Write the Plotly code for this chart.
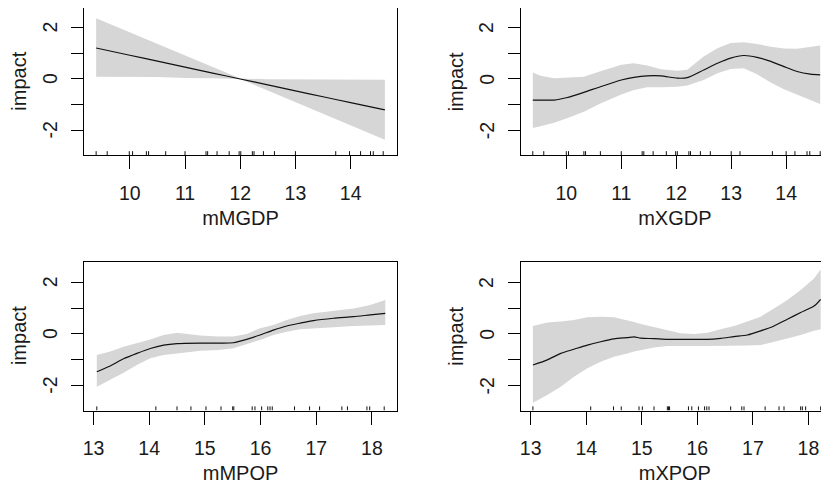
import plotly.graph_objects as go

# ---------------- data ----------------
# Panel 1: mMGDP
x_mgdp = [9.39, 10.0, 10.5, 11.0, 11.5, 12.0, 12.5, 13.0, 13.5, 14.0, 14.62]
fit_mgdp = [1.20, 0.92, 0.69, 0.46, 0.23, 0.00, -0.23, -0.46, -0.69, -0.92, -1.20]
up_mgdp = [2.35, 1.80, 1.35, 0.90, 0.45, 0.02, -0.01, -0.02, -0.03, -0.03, -0.03]
lo_mgdp = [0.09, 0.08, 0.08, 0.04, 0.03, 0.00, -0.45, -0.90, -1.35, -1.80, -2.36]
rug_mgdp = [9.39, 9.59, 9.99, 10.05, 10.30, 10.34, 10.65, 11.0, 11.38, 11.41, 11.58,
            11.80, 11.98, 12.01, 12.22, 12.25, 12.42, 12.62, 13.0, 13.73, 13.98,
            14.18, 14.36, 14.41, 14.59]

# Panel 2: mXGDP
x_xgdp = [9.39, 9.53, 9.78, 10.0, 10.32, 10.62, 11.0, 11.23, 11.47, 11.72, 12.02,
          12.20, 12.5, 12.75, 12.99, 13.23, 13.47, 13.72, 13.96, 14.2, 14.44, 14.62]
fit_xgdp = [-0.82, -0.82, -0.82, -0.73, -0.52, -0.30, -0.04, 0.06, 0.12, 0.12, 0.03,
            0.05, 0.35, 0.61, 0.81, 0.91, 0.84, 0.68, 0.48, 0.29, 0.19, 0.16]
up_xgdp = [0.25, 0.12, 0.03, 0.05, 0.09, 0.30, 0.55, 0.61, 0.52, 0.38, 0.32,
           0.36, 0.87, 1.19, 1.39, 1.42, 1.36, 1.25, 1.18, 1.17, 1.24, 1.30]
lo_xgdp = [-1.90, -1.83, -1.70, -1.53, -1.27, -0.95, -0.60, -0.43, -0.32, -0.32, -0.30,
           -0.25, -0.04, 0.22, 0.39, 0.42, 0.18, -0.14, -0.40, -0.62, -0.82, -0.97]
rug_xgdp = [9.39, 9.59, 10.0, 10.04, 10.32, 10.35, 10.62, 11.0, 11.38, 11.41, 11.58,
            11.82, 11.99, 12.02, 12.23, 12.26, 12.44, 12.62, 13.0, 13.16, 13.75,
            14.0, 14.16, 14.38, 14.43, 14.62]

# Panel 3: mMPOP
x_mpop = [13.06, 13.30, 13.54, 13.78, 14.02, 14.26, 14.50, 14.92, 15.25, 15.51, 15.75,
          15.99, 16.23, 16.47, 16.71, 16.95, 17.31, 17.67, 17.97, 18.24]
fit_mpop = [-1.46, -1.24, -0.96, -0.75, -0.56, -0.43, -0.37, -0.35, -0.35, -0.34, -0.21,
            -0.04, 0.15, 0.31, 0.42, 0.52, 0.61, 0.67, 0.74, 0.80]
up_mpop = [-0.81, -0.68, -0.49, -0.36, -0.21, -0.04, 0.05, -0.06, -0.10, -0.10, 0.00,
           0.22, 0.35, 0.54, 0.70, 0.80, 0.90, 0.99, 1.12, 1.32]
lo_mpop = [-2.04, -1.78, -1.50, -1.20, -0.94, -0.81, -0.75, -0.65, -0.62, -0.55, -0.39,
           -0.23, -0.04, 0.09, 0.18, 0.22, 0.26, 0.31, 0.34, 0.35]
rug_mpop = [13.06, 14.12, 14.50, 14.75, 15.02, 15.29, 15.50, 15.52, 15.85, 15.90, 16.02,
            16.13, 16.17, 16.21, 16.61, 16.88, 17.06, 17.46, 17.56, 17.91, 17.96, 18.22]

# Panel 4: mXPOP
x_xpop = [13.04, 13.30, 13.54, 13.78, 14.02, 14.26, 14.50, 14.74, 14.86, 14.98, 15.22,
          15.46, 15.70, 15.94, 16.18, 16.42, 16.66, 16.90, 17.14, 17.38, 17.62, 17.86,
          18.10, 18.22]
fit_xpop = [-1.20, -1.00, -0.75, -0.59, -0.43, -0.30, -0.19, -0.14, -0.11, -0.16, -0.18,
            -0.21, -0.21, -0.21, -0.21, -0.17, -0.10, -0.04, 0.12, 0.31, 0.57, 0.83,
            1.08, 1.34]
up_xpop = [0.31, 0.44, 0.48, 0.54, 0.65, 0.67, 0.65, 0.54, 0.46, 0.39, 0.26,
           0.13, 0.03, 0.00, 0.05, 0.18, 0.31, 0.48, 0.67, 0.99, 1.32, 1.70,
           2.15, 2.50]
lo_xpop = [-2.66, -2.36, -2.04, -1.65, -1.33, -1.07, -0.88, -0.75, -0.68, -0.62, -0.52,
           -0.46, -0.46, -0.46, -0.46, -0.46, -0.46, -0.45, -0.43, -0.30, -0.17, -0.04,
           0.13, 0.18]
rug_xpop = [13.04, 14.08, 14.49, 14.63, 14.95, 15.01, 15.22, 15.46, 15.48, 15.50, 15.84,
            15.90, 16.02, 16.13, 16.17, 16.21, 16.60, 16.80, 16.84, 17.22, 17.47, 17.56,
            17.86, 17.89, 17.95, 18.22]

x_titles = ["mMGDP", "mXGDP", "mMPOP", "mXPOP"]
y_title = "impact"
y_tickvals = [-2, -1, 0, 1, 2]
y_ticktext = ["-2", "", "0", "", "2"]

panels = [
    (x_mgdp, fit_mgdp, up_mgdp, lo_mgdp, rug_mgdp),
    (x_xgdp, fit_xgdp, up_xgdp, lo_xgdp, rug_xgdp),
    (x_mpop, fit_mpop, up_mpop, lo_mpop, rug_mpop),
    (x_xpop, fit_xpop, up_xpop, lo_xpop, rug_xpop),
]

# ---------------- layout geometry ----------------
# page has an 8px body margin, so the figure itself is 821x479
W, H = 821, 479
YMIN = -2.96
yranges = [[YMIN, 2.752], [YMIN, 2.752], [YMIN, 2.797], [YMIN, 2.797]]
xranges = [[9.17, 14.84], [9.17, 14.78], [12.83, 18.45], [12.82, 18.37]]
xdomains = [[76 / W, 389 / W], [512.7 / W, 1.0], [76 / W, 389 / W], [512.7 / W, 1.0]]
ydomains = [[1 - 147.3 / H, 1.0], [1 - 147.3 / H, 1.0],
            [1 - 402.5 / H, 1 - 253.7 / H], [1 - 402.5 / H, 1 - 253.7 / H]]

FONT = "Liberation Sans, Arial, sans-serif"
TXT = "#1a1a1a"
BAND = "#d6d6d6"

fig = go.Figure()
layout = dict(
    width=W, height=H, margin=dict(l=0, r=0, t=0, b=0),
    paper_bgcolor="white", plot_bgcolor="white", showlegend=False,
    font=dict(family=FONT, size=20, color=TXT),
)
annotations = []

rug_h = 0.16
for i, (xs, fit, up, lo, rug) in enumerate(panels):
    n = i + 1
    xa = "x" if n == 1 else f"x{n}"
    ya = "y" if n == 1 else f"y{n}"
    fig.add_trace(go.Scatter(
        x=list(xs) + list(xs[::-1]), y=list(up) + list(lo[::-1]),
        fill="toself", fillcolor=BAND, line=dict(width=0, color=BAND),
        mode="lines", hoverinfo="skip", xaxis=xa, yaxis=ya))
    fig.add_trace(go.Scatter(
        x=xs, y=fit, mode="lines",
        line=dict(color="#111111", width=1.2, shape="spline", smoothing=0.6),
        xaxis=xa, yaxis=ya))
    rx, ry = [], []
    for v in rug:
        rx += [v, v, None]
        ry += [YMIN, YMIN + rug_h, None]
    fig.add_trace(go.Scatter(x=rx, y=ry, mode="lines",
                             line=dict(color="#111111", width=1),
                             hoverinfo="skip", xaxis=xa, yaxis=ya, cliponaxis=False))
    left = n in (1, 3)
    layout["xaxis" if n == 1 else f"xaxis{n}"] = dict(
        domain=xdomains[i], range=xranges[i], anchor=ya,
        showgrid=False, zeroline=False, showline=True, linecolor="black", linewidth=1,
        mirror=True, ticks="outside", ticklen=13, tickwidth=1, tickcolor="black",
        dtick=1, tick0=0, ticklabelstandoff=7,
        tickfont=dict(size=19.5, color=TXT),
        title=dict(text=x_titles[i], standoff=8, font=dict(size=20, color=TXT)),
    )
    layout["yaxis" if n == 1 else f"yaxis{n}"] = dict(
        domain=ydomains[i], range=yranges[i], anchor=xa,
        showgrid=False, zeroline=False, showline=True, linecolor="black", linewidth=1,
        mirror=left, ticks="outside", ticklen=12, tickwidth=1, tickcolor="black",
        tickvals=y_tickvals, showticklabels=False,
    )
    # rotated y tick labels (R style, parallel to the axis)
    for val, txt in zip(y_tickvals, y_ticktext):
        if txt:
            annotations.append(dict(
                x=0, xref=f"{xa} domain", y=val, yref=ya, text=txt, textangle=-90,
                showarrow=False, xanchor="center", yanchor="middle", xshift=-34,
                font=dict(size=19.5, color=TXT, family=FONT)))
    annotations.append(dict(
        x=0, xref=f"{xa} domain", y=0.5, yref=f"{ya} domain", text=y_title,
        textangle=-90, showarrow=False, xanchor="center", yanchor="middle",
        xshift=-65, borderpad=0, font=dict(size=20, color=TXT, family=FONT)))

layout["annotations"] = annotations
fig.update_layout(**layout)
fig.write_html("out.html")
